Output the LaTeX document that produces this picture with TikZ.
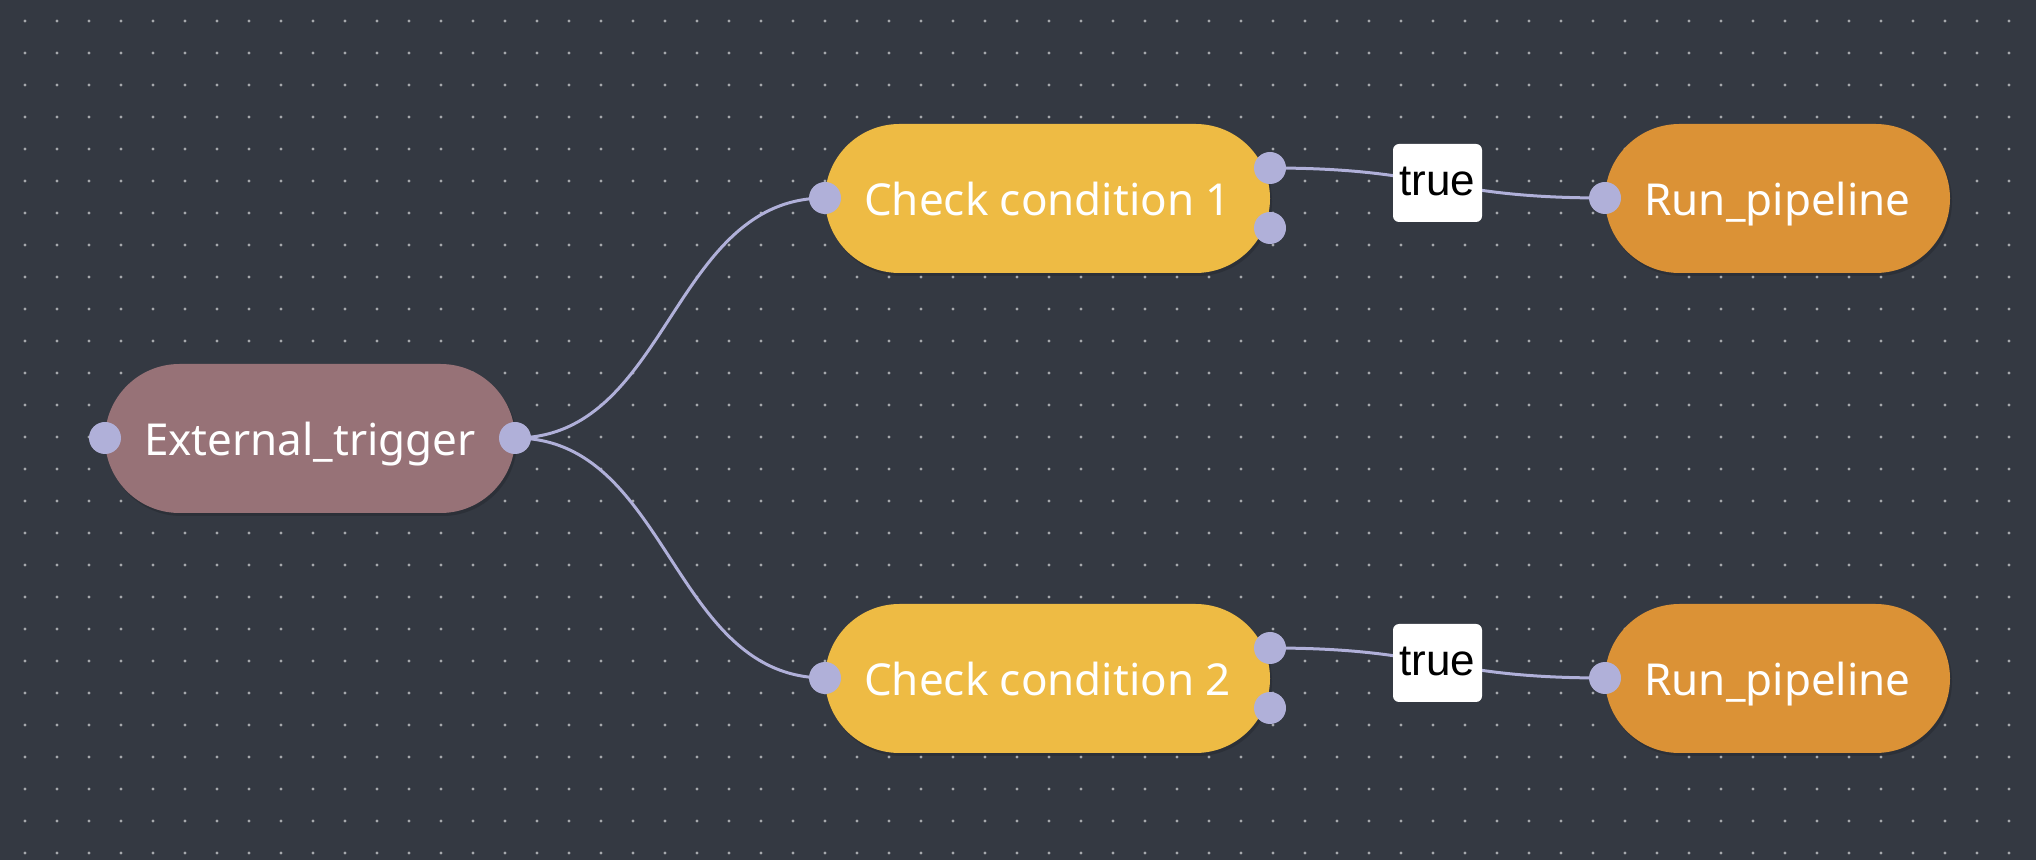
\documentclass[tikz,border=0pt]{standalone}
\usepackage{fontspec}
\setmainfont{Noto Sans}
\newfontfamily\labelfont{Liberation Sans}
\usetikzlibrary{shapes.misc,shadows}
\definecolor{bg}{RGB}{52,57,66}
\definecolor{dotc}{RGB}{165,168,172}
\definecolor{trig}{RGB}{151,114,119}
\definecolor{cond}{RGB}{238,187,68}
\definecolor{run}{RGB}{219,146,54}
\definecolor{port}{RGB}{176,176,217}
\begin{document}
\begin{tikzpicture}[x=0.5pt,y=-0.5pt,
  pill/.style={rounded rectangle, minimum height=74.5pt, inner sep=0pt, text=white,
    font=\fontsize{22}{25}\selectfont, text height=18pt, text depth=0.5pt,
    drop shadow={shadow xshift=1pt, shadow yshift=-1.5pt, opacity=0.15, fill=black}},
  portc/.style={circle, fill=port, minimum size=16pt, inner sep=0pt},
  wire/.style={draw=port, line width=1.5pt},
  tag/.style={fill=white, rounded corners=3pt, minimum width=44.5pt, minimum height=39pt,
    inner sep=0pt, font=\labelfont\fontsize{22}{25}\selectfont, text=black,
    text height=12.5pt, text depth=0pt}]
\useasboundingbox[fill=bg] (0,0) rectangle (2036,860);
\foreach \i in {0,...,62}{
  \foreach \j in {0,...,26}{
    \fill[dotc] ({25+32*\i},{21+32*\j}) circle (0.8pt);
  }
}
% nodes
\node[pill, fill=trig, minimum width=205pt] (trig) at (310,438.5) {External\_trigger};
\node[pill, fill=cond, minimum width=222.5pt] (c1) at (1047.5,198.5) {Check condition 1};
\node[pill, fill=cond, minimum width=222.5pt] (c2) at (1047.5,678.5) {Check condition 2};
\node[pill, fill=run, minimum width=172.5pt] (r1) at (1777.5,198.5) {Run\_pipeline};
\node[pill, fill=run, minimum width=172.5pt] (r2) at (1777.5,678.5) {Run\_pipeline};
% port positions
\coordinate (tin) at (105,438);
\coordinate (tout) at (515,438);
\coordinate (c1in) at (825,198);
\coordinate (c1t) at (1270,168);
\coordinate (c1f) at (1270,228);
\coordinate (r1in) at (1605,198);
\coordinate (c2in) at (825,678);
\coordinate (c2t) at (1270,648);
\coordinate (c2f) at (1270,708);
\coordinate (r2in) at (1605,678);
% edges
\draw[wire] (tout) .. controls +(154,0) and +(-154,0) .. (c1in);
\draw[wire] (tout) .. controls +(154,0) and +(-154,0) .. (c2in);
\draw[wire] (c1t) .. controls +(167.5,0) and +(-167.5,0) .. node[tag, pos=0.5] (t1) {true} (r1in);
\draw[wire] (c2t) .. controls +(167.5,0) and +(-167.5,0) .. node[tag, pos=0.5] (t2) {true} (r2in);
% ports
\foreach \p in {tin,tout,c1in,c1t,c1f,r1in,c2in,c2t,c2f,r2in}{
  \node[portc] (port-\p) at (\p) {};
}
\end{tikzpicture}
\end{document}
